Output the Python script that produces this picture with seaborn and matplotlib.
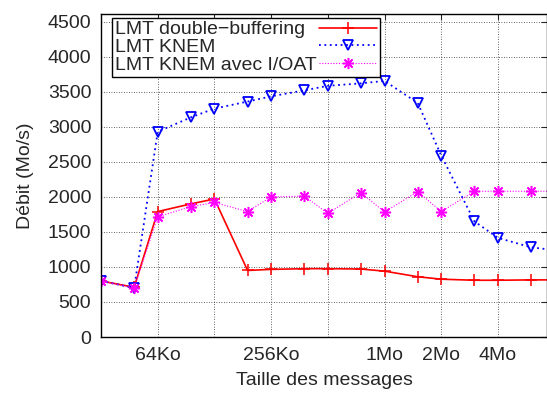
import numpy as np
import pandas as pd
import seaborn as sns
import matplotlib
matplotlib.use("Agg")
import matplotlib.pyplot as plt
from matplotlib.ticker import FixedLocator, FixedFormatter, NullLocator

# message sizes in Ko
sizes_ko = [32, 48, 64, 96, 128, 192, 256, 384, 512, 768, 1024, 1536, 2048, 3072, 4096, 6144, 8192]

double_buffering = [800, 710, 1790, 1900, 1970, 950, 965, 975, 975, 970, 940, 860, 825, 810, 810, 815, 815]
knem = [800, 700, 2930, 3135, 3260, 3360, 3435, 3520, 3585, 3620, 3655, 3340, 2590, 1650, 1415, 1280, 1240]
knem_ioat = [800, 700, 1715, 1860, 1920, 1790, 2000, 2010, 1765, 2060, 1785, 2075, 1790, 2080, 2080, 2080, 2080]

series_names = ["LMT double\u2212buffering", "LMT KNEM", "LMT KNEM avec I/OAT"]

tick_pos = [64, 128, 256, 512, 1024, 2048, 4096]
tick_labels = ["64Ko", "", "256Ko", "", "1Mo", "2Mo", "4Mo"]

df = pd.DataFrame({
    "taille": sizes_ko * 3,
    "debit": double_buffering + knem + knem_ioat,
    "serie": [series_names[0]] * len(sizes_ko) + [series_names[1]] * len(sizes_ko)
             + [series_names[2]] * len(sizes_ko),
})

FS = 14

sns.set_style("white")
plt.rcParams["font.family"] = ["Liberation Sans", "DejaVu Sans"]
plt.rcParams["font.size"] = FS

fig = plt.figure(figsize=(5.47, 3.94), dpi=100)
ax = fig.add_axes([101 / 547, 57 / 394, 446 / 547, 323 / 394])

styles = {
    series_names[0]: dict(color="red", linestyle="-", linewidth=1.2, marker="+",
                          markersize=8, markeredgewidth=1.1, markeredgecolor="red"),
    series_names[1]: dict(color="blue", linestyle=(0, (1, 2)), linewidth=1.3, marker="v",
                          markersize=6.5, markerfacecolor="none", markeredgewidth=1.3,
                          markeredgecolor="blue"),
    series_names[2]: dict(color="magenta", linestyle=(0, (1, 1.5)), linewidth=0.8,
                          marker=(8, 2, 0), markersize=8, markeredgewidth=1.1,
                          markeredgecolor="magenta"),
}

for name in series_names:
    sub = df[df.serie == name]
    sns.lineplot(data=sub, x="taille", y="debit", ax=ax, label=name,
                 estimator=None, sort=False, **styles[name])

ax.set_xscale("log", base=2)
ax.set_xlim(32, 7460)
ax.set_ylim(0, 4610)
ax.xaxis.set_major_locator(FixedLocator(tick_pos))
ax.xaxis.set_major_formatter(FixedFormatter(tick_labels))
ax.xaxis.set_minor_locator(NullLocator())
ax.set_yticks(np.arange(0, 4501, 500))

ax.grid(True, color="black", linestyle=(0, (1, 2)), linewidth=0.6, alpha=0.8)
ax.tick_params(direction="in", top=True, right=True, length=4, width=0.8, pad=7,
               labelsize=FS)
for s in ax.spines.values():
    s.set_color("black")
    s.set_linewidth(1.0)

ax.set_xlabel("Taille des messages", fontsize=FS, labelpad=6)
ax.set_ylabel("D\u00e9bit (Mo/s)", fontsize=FS, labelpad=10)

leg = ax.legend(loc="upper left", bbox_to_anchor=(0.025, 0.988), markerfirst=False,
                frameon=True, fancybox=False, framealpha=1, edgecolor="black",
                fontsize=FS, handlelength=3.0, borderpad=0.15, labelspacing=0.0,
                handletextpad=0.1, borderaxespad=0)
leg.get_frame().set_linewidth(1.0)

# gnuplot style key: text left aligned, samples lined up on the right
fig.canvas.draw()
renderer = fig.canvas.get_renderer()
widths = [t.get_window_extent(renderer).width for t in leg.get_texts()]
wmax = max(widths)
base_sep = 0.1 * FS
rows = []
for col in leg._legend_handle_box.get_children():
    rows.extend(col.get_children())
for row, w in zip(rows, widths):
    row.sep = base_sep + (wmax - w) * 72 / fig.dpi

fig.savefig("out.png", dpi=100)
